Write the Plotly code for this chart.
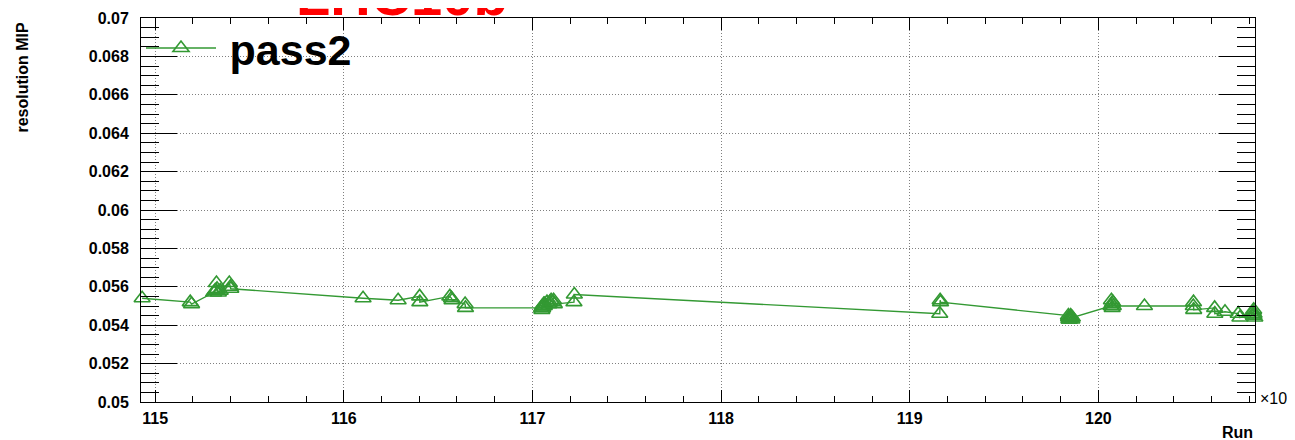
import plotly.graph_objects as go

# ---- data (run numbers and MIP resolution, pass2) ----
runs = [
    114931, 115186, 115193, 115310, 115318, 115322, 115325, 115328, 115335, 115345,
    115393, 115399, 115401,
    116102, 116288, 116402, 116403, 116562, 116571, 116574, 116643, 116645,
    117048, 117050, 117052, 117053, 117054, 117059, 117060, 117063, 117065, 117077,
    117086, 117092, 117099, 117109, 117112, 117116, 117220, 117222,
    119159, 119161, 119163,
    119841, 119842, 119844, 119845, 119846, 119849, 119853, 119856, 119859, 119862,
    120067, 120069, 120072, 120073, 120076, 120079,
    120244,
    120503, 120504, 120505,
    120616, 120617, 120671,
    120741, 120750,
    120820, 120821, 120822, 120823, 120824, 120825, 120829,
]
resolution_mip = [
    0.0554, 0.0552, 0.0551, 0.0557, 0.0558, 0.0558, 0.0562, 0.0559, 0.0557, 0.0558,
    0.0562, 0.0560, 0.0559,
    0.0554, 0.0553, 0.0555, 0.0552, 0.0555, 0.0554, 0.0553, 0.0551, 0.0549,
    0.0549, 0.0548, 0.0549, 0.0550, 0.0549, 0.0550, 0.0551, 0.0550, 0.0551, 0.0552,
    0.0551, 0.0552, 0.0553, 0.0552, 0.0553, 0.0551, 0.0552, 0.0556,
    0.0546, 0.0553, 0.0552,
    0.0545, 0.0544, 0.0543, 0.0544, 0.0543, 0.0544, 0.0545, 0.0544, 0.0543, 0.0544,
    0.0550, 0.0553, 0.0551, 0.0549, 0.0552, 0.0550,
    0.0550,
    0.0550, 0.0552, 0.0548,
    0.0549, 0.0546, 0.0547,
    0.0546, 0.0544,
    0.0547, 0.0545, 0.0546, 0.0548, 0.0545, 0.0546, 0.0544,
]
series_name = "pass2"
title_text = "LHC10b"

x_tick_vals = [115000, 116000, 117000, 118000, 119000, 120000]
x_tick_labels = ["115", "116", "117", "118", "119", "120"]
y_tick_vals = [0.05, 0.052, 0.054, 0.056, 0.058, 0.06, 0.062, 0.064, 0.066, 0.068, 0.07]
y_tick_labels = ["0.05", "0.052", "0.054", "0.056", "0.058", "0.06",
                 "0.062", "0.064", "0.066", "0.068", "0.07"]

GREEN = "#339933"
FONT = "Liberation Sans, Arial, Helvetica, sans-serif"

# the page body has an 8px margin, so the figure is 8px smaller than the window
FIG_W, FIG_H = 1287, 432
ML, MR, MT, MB = 133, 40, 10, 38
PLOT_W = FIG_W - ML - MR   # 1114
PLOT_H = FIG_H - MT - MB   # 384


def px_x(page_x):
    return (page_x - 8 - ML) / PLOT_W


def px_y(page_y):
    return (FIG_H - MB - (page_y - 8)) / PLOT_H


fig = go.Figure()
fig.add_trace(go.Scatter(
    x=runs, y=resolution_mip, name="\u2009" + series_name, mode="lines+markers",
    line=dict(color=GREEN, width=1.4),
    marker=dict(symbol="triangle-up-open", size=14, color=GREEN,
                line=dict(color=GREEN, width=1.6)),
    cliponaxis=False,
))

axis_common = dict(
    showline=True, linecolor="black", linewidth=1, mirror="ticks",
    ticks="inside", tickcolor="black", tickwidth=1,
    showgrid=True, gridcolor="#808080", griddash="1px,2px", gridwidth=1,
    zeroline=False,
    tickfont=dict(family=FONT, size=16, color="black", weight="bold"),
)

fig.update_xaxes(
    **axis_common,
    range=[114925, 120830],
    tickmode="array", tickvals=x_tick_vals, ticktext=x_tick_labels,
    ticklen=12, ticklabelstandoff=2,
    minor=dict(ticks="inside", dtick=200, ticklen=6, tickcolor="black",
               tickwidth=1, showgrid=False),
)
fig.update_yaxes(
    **axis_common,
    range=[0.05, 0.07],
    tickmode="array", tickvals=y_tick_vals, ticktext=y_tick_labels,
    ticklen=36, ticklabelstandoff=8,
    minor=dict(ticks="inside", dtick=0.0005, ticklen=18, tickcolor="black",
               tickwidth=1, showgrid=False),
)

fig.update_layout(
    width=FIG_W, height=FIG_H,
    margin=dict(l=ML, r=MR, t=MT, b=MB, autoexpand=False),
    paper_bgcolor="white", plot_bgcolor="white",
    showlegend=True,
    legend=dict(
        x=0.0, y=px_y(48), xanchor="left", yanchor="middle",
        bgcolor="rgba(0,0,0,0)", borderwidth=0,
        font=dict(family=FONT, size=43, color="black", weight="bold"),
        itemwidth=70,
    ),
    annotations=[
        dict(text=title_text, xref="paper", yref="paper",
             x=px_x(402), y=px_y(29),
             xanchor="center", yanchor="bottom", showarrow=False,
             font=dict(family=FONT, size=56, color="red", weight="bold")),
        dict(text="resolution MIP", xref="paper", yref="paper",
             x=px_x(22), y=px_y(20), textangle=-90,
             xanchor="center", yanchor="top", showarrow=False,
             font=dict(family=FONT, size=16, color="black", weight="bold")),
        dict(text="Run", xref="paper", yref="paper",
             x=1.0, y=px_y(432), xanchor="right", yanchor="middle",
             showarrow=False,
             font=dict(family=FONT, size=16, color="black", weight="bold")),
        dict(text="\u00d710<sup>3</sup>", xref="paper", yref="paper",
             x=px_x(1258), y=px_y(397),
             xanchor="left", yanchor="middle", showarrow=False,
             font=dict(family=FONT, size=16, color="black")),
    ],
)

fig.write_html("out.html")
